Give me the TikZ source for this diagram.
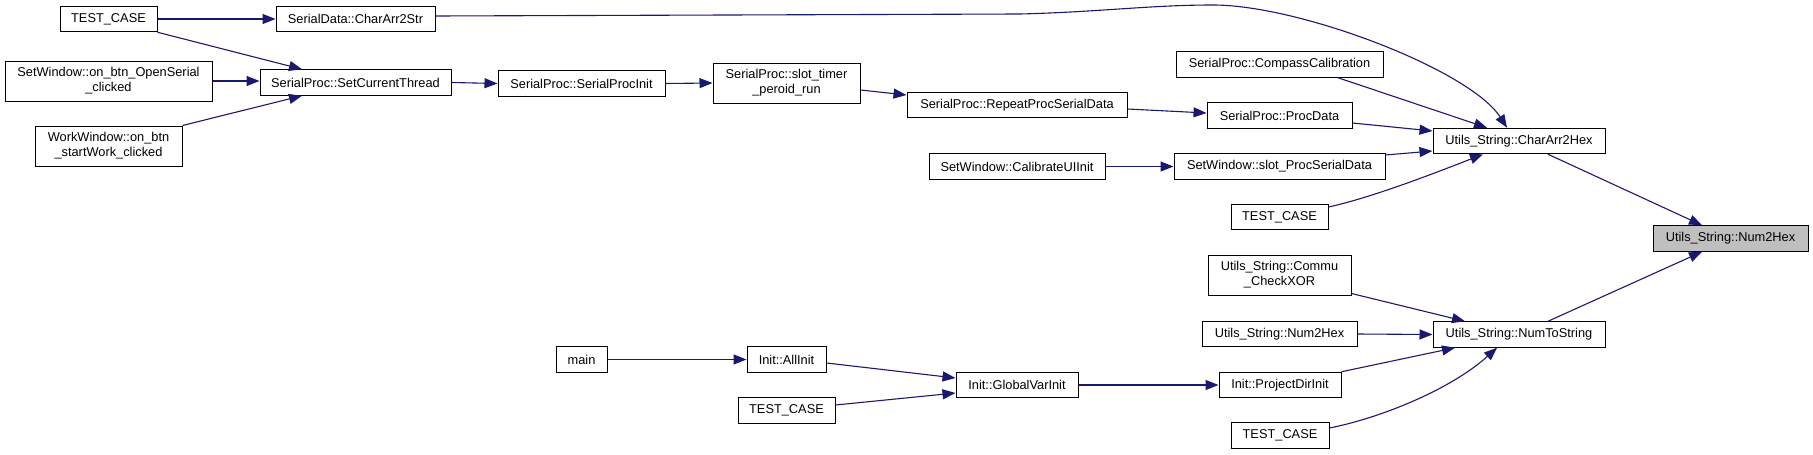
\documentclass[tikz,border=0pt]{standalone}
\usepackage{fontspec}
\setmainfont{Liberation Sans}
\usetikzlibrary{arrows.meta,calc}
\definecolor{edgeblue}{RGB}{25,25,112}
\definecolor{targetgrey}{RGB}{191,191,191}
\begin{document}
\begin{tikzpicture}[x=1pt,y=-1pt,
  fn/.style={draw=black, fill=white, line width=1pt, inner sep=0pt, align=center,
    font=\fontsize{12.8}{15}\selectfont, minimum height=25.5pt},
  fn2/.style={fn, minimum height=40pt},
  target/.style={fn, fill=targetgrey},
  call/.style={draw=edgeblue, line width=1.1pt, -{Triangle[length=13pt,width=10pt]}},
]
\useasboundingbox (0,0) rectangle (1813,455);

% column 1
\node[fn, minimum width=97pt]  (t1)  at (108.5,19)  {TEST\_CASE};
\node[fn2, minimum width=207pt] (os) at (108.5,81)  {SetWindow::on\_btn\_OpenSerial\\\_clicked};
\node[fn2, minimum width=147pt] (ww) at (108.5,146) {WorkWindow::on\_btn\\\_startWork\_clicked};
% column 2
\node[fn, minimum width=159pt] (cs)  at (355.5,19)   {SerialData::CharArr2Str};
\node[fn, minimum width=191pt] (sct) at (355.5,82.5) {SerialProc::SetCurrentThread};
% column 3
\node[fn, minimum width=167pt] (spi) at (581.5,83.5) {SerialProc::SerialProcInit};
\node[fn, minimum width=51pt]  (main) at (581.5,359.5) {main};
% column 4
\node[fn2, minimum width=147pt] (stp) at (786.5,83) {SerialProc::slot\_timer\\\_peroid\_run};
\node[fn, minimum width=79pt]  (ai)  at (786.5,359.5) {Init::AllInit};
\node[fn, minimum width=97pt]  (t3)  at (786.5,410.5) {TEST\_CASE};
% column 5
\node[fn, minimum width=220pt] (rps) at (1017,105)   {SerialProc::RepeatProcSerialData};
\node[fn, minimum width=176pt] (cui) at (1017,166.5) {SetWindow::CalibrateUIInit};
\node[fn, minimum width=122pt] (gvi) at (1017,385)   {Init::GlobalVarInit};
% column 6
\node[fn, minimum width=207pt] (cc)  at (1279.5,64.5)  {SerialProc::CompassCalibration};
\node[fn, minimum width=145pt] (pd)  at (1279.5,115.5) {SerialProc::ProcData};
\node[fn, minimum width=211pt] (sps) at (1279.5,166.5) {SetWindow::slot\_ProcSerialData};
\node[fn, minimum width=97pt]  (t2)  at (1279.5,217)   {TEST\_CASE};
\node[fn2, minimum width=143pt] (xor) at (1279.5,275)  {Utils\_String::Commu\\\_CheckXOR};
\node[fn, minimum width=155pt] (n2hb) at (1279.5,334)  {Utils\_String::Num2Hex};
\node[fn, minimum width=122pt] (pdi) at (1280,385)     {Init::ProjectDirInit};
\node[fn, minimum width=98pt]  (t4)  at (1280,435.5)   {TEST\_CASE};
% column 7
\node[fn, minimum width=172pt] (ch)  at (1519,141)   {Utils\_String::CharArr2Hex};
\node[fn, minimum width=172pt] (nts) at (1519,334.5) {Utils\_String::NumToString};
% column 8
\node[target, minimum width=155pt] (n2h) at (1730.5,238.5) {Utils\_String::Num2Hex};

% connectors
\draw[call] (t1.east) -- (cs.west);
\draw[call] (t1.south east) -- ($(sct.north)+(-53.5,0)$);
\draw[call] (os.east) -- (os.east -| sct.west);
\draw[call] (ww.north east) -- ($(sct.south)+(-53.5,0)$);
\draw[call] (sct.east) -- (spi.west);
\draw[call] (spi.east) -- (stp.west);
\draw[call] ($(stp.east)+(0,7)$) -- ($(rps.west)+(0,-10)$);
\draw[call] ($(cs.east)+(0,-3)$) -- (1020,14) .. controls (1100,12) and (1150,5) .. (1213,5)
   .. controls (1300,5) and (1470,70) .. ($(ch.north)+(-12,0)$);
\draw[call] ($(cc.south)+(58.5,0)$) -- ($(ch.north)+(-32,0)$);
\draw[call] ($(pd.east)+(0,7.5)$) -- ($(ch.west)+(0,-10)$);
\draw[call] ($(sps.east)+(0,-11.5)$) -- ($(ch.west)+(0,10)$);
\draw[call] ($(t2.east)+(0,-10)$) .. controls (1370,198) and (1430,175) .. ($(ch.south)+(-36,0)$);
\draw[call] ($(rps.east)+(0,4)$) -- ($(pd.west)+(0,-2.5)$);
\draw[call] (cui.east) -- (sps.west);
\draw[call] ($(ch.south)+(29,0)$) -- ($(n2h.north)+(-28.5,0)$);
\draw[call] ($(nts.north)+(29,0)$) -- ($(n2h.south)+(-28.5,0)$);
\draw[call] ($(xor.south east)+(0,-2)$) -- ($(nts.north)+(-54,0)$);
\draw[call] (n2hb.east) -- (nts.west);
\draw[call] (pdi.north east) -- ($(nts.south)+(-64,0)$);
\draw[call] ($(t4.east)+(0,-7.5)$) .. controls (1380,418) and (1450,390) .. ($(nts.south)+(-22,0)$);
\draw[call] (main.east) -- (ai.west);
\draw[call] ($(ai.east)+(0,3.5)$) -- ($(gvi.west)+(0,-7)$);
\draw[call] ($(t3.east)+(0,-5.5)$) -- ($(gvi.west)+(0,8)$);
\draw[call] (gvi.east) -- (pdi.west);
\end{tikzpicture}
\end{document}
